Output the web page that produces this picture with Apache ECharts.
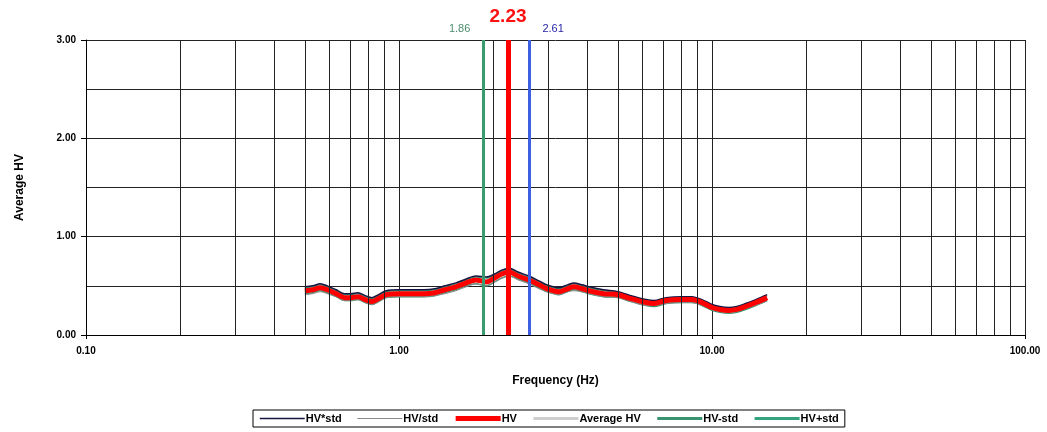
<!DOCTYPE html>
<html>
<head>
<meta charset="utf-8">
<script src="https://cdn.jsdelivr.net/npm/echarts@6/dist/echarts.min.js"></script>
<style>
  html, body { margin: 0; padding: 0; background: #fff; }
  #hvChart { width: 1047px; height: 432px; }
</style>
</head>
<body>
<div id="hvChart"></div>
<script>
// frequency samples (Hz)
var freq = [0.50, 0.53, 0.56, 0.59, 0.63, 0.67, 0.70, 0.74, 0.78, 0.82, 0.86, 0.91, 1.00, 1.10, 1.20, 1.30, 1.40, 1.52, 1.64, 1.76, 1.90, 2.02, 2.13, 2.25, 2.40, 2.60, 2.80, 2.97, 3.24, 3.45, 3.62, 3.85, 4.05, 4.50, 5.00, 5.50, 6.15, 6.53, 7.13, 8.00, 8.63, 9.29, 10.0, 10.6, 11.3, 12.0, 12.8, 13.8, 15.0];

var hv =        [0.45, 0.46, 0.48, 0.46, 0.42, 0.38, 0.38, 0.39, 0.36, 0.34, 0.37, 0.41, 0.42, 0.42, 0.42, 0.43, 0.46, 0.49, 0.53, 0.56, 0.54, 0.58, 0.62, 0.64, 0.60, 0.56, 0.51, 0.47, 0.44, 0.47, 0.49, 0.47, 0.45, 0.42, 0.41, 0.37, 0.33, 0.32, 0.35, 0.36, 0.36, 0.33, 0.28, 0.26, 0.25, 0.26, 0.29, 0.33, 0.38];
var hvMulStd =  [0.49, 0.50, 0.52, 0.50, 0.46, 0.42, 0.42, 0.43, 0.40, 0.38, 0.41, 0.45, 0.46, 0.46, 0.46, 0.47, 0.50, 0.53, 0.57, 0.60, 0.59, 0.62, 0.66, 0.68, 0.64, 0.60, 0.55, 0.51, 0.48, 0.51, 0.53, 0.51, 0.49, 0.46, 0.44, 0.40, 0.36, 0.35, 0.38, 0.39, 0.39, 0.36, 0.31, 0.29, 0.28, 0.29, 0.32, 0.36, 0.41];
var hvDivStd =  [0.41, 0.42, 0.44, 0.42, 0.39, 0.35, 0.35, 0.36, 0.33, 0.31, 0.34, 0.38, 0.39, 0.39, 0.39, 0.40, 0.42, 0.45, 0.49, 0.52, 0.50, 0.54, 0.58, 0.60, 0.56, 0.52, 0.47, 0.44, 0.41, 0.44, 0.45, 0.44, 0.42, 0.39, 0.38, 0.34, 0.30, 0.30, 0.32, 0.33, 0.33, 0.30, 0.26, 0.24, 0.23, 0.24, 0.27, 0.30, 0.35];
var avgHv =     [0.44, 0.46, 0.47, 0.46, 0.42, 0.38, 0.38, 0.39, 0.36, 0.34, 0.37, 0.40, 0.42, 0.42, 0.42, 0.43, 0.45, 0.49, 0.53, 0.55, 0.54, 0.58, 0.62, 0.63, 0.60, 0.56, 0.51, 0.47, 0.44, 0.47, 0.48, 0.47, 0.45, 0.42, 0.41, 0.37, 0.33, 0.32, 0.35, 0.36, 0.36, 0.33, 0.28, 0.26, 0.25, 0.26, 0.29, 0.33, 0.37];
var hvMinusStd = [0.42, 0.43, 0.45, 0.43, 0.39, 0.35, 0.35, 0.36, 0.33, 0.31, 0.34, 0.38, 0.39, 0.39, 0.39, 0.40, 0.43, 0.46, 0.50, 0.52, 0.50, 0.54, 0.58, 0.60, 0.57, 0.53, 0.48, 0.44, 0.41, 0.44, 0.46, 0.44, 0.42, 0.39, 0.38, 0.34, 0.30, 0.29, 0.32, 0.33, 0.33, 0.30, 0.25, 0.23, 0.22, 0.23, 0.26, 0.30, 0.35];
var hvPlusStd = [0.48, 0.49, 0.51, 0.49, 0.45, 0.41, 0.41, 0.42, 0.39, 0.37, 0.40, 0.44, 0.45, 0.45, 0.45, 0.46, 0.49, 0.52, 0.56, 0.59, 0.58, 0.61, 0.65, 0.67, 0.63, 0.59, 0.54, 0.50, 0.47, 0.50, 0.52, 0.50, 0.48, 0.45, 0.43, 0.39, 0.35, 0.34, 0.37, 0.38, 0.38, 0.35, 0.30, 0.28, 0.27, 0.28, 0.31, 0.35, 0.40];

// peak frequency and its std bounds
var f0 = 2.23;
var f0Low = 1.86;
var f0High = 2.61;

// minor log grid lines
var minorGrid = [0.2, 0.3, 0.4, 0.5, 0.6, 0.7, 0.8, 0.9, 2, 3, 4, 5, 6, 7, 8, 9, 20, 30, 40, 50, 60, 70, 80, 90];

var legendNames = ['HV*std', 'HV/std', 'HV', 'Average HV', 'HV-std', 'HV+std'];
var thickLegend = ['Average HV', 'HV-std', 'HV+std'];

var FONT = "'Liberation Sans', Arial, sans-serif";

function pairs(ys) {
  return freq.map(function (f, i) { return [f, ys[i]]; });
}

function curve(name, ys, color, width) {
  return {
    name: name,
    type: 'line',
    data: pairs(ys),
    symbol: 'none',
    smooth: 0.3,
    lineStyle: { color: color, width: width },
    itemStyle: { color: color, opacity: 0 }
  };
}

var myChart = echarts.init(document.getElementById('hvChart'));

var option = {
  animation: false,
  textStyle: { fontFamily: FONT },
  grid: { left: 86, right: 22, top: 40, bottom: 97 },
  legend: {
    data: legendNames.map(function (n) {
      return thickLegend.indexOf(n) >= 0 ? { name: n, lineStyle: { width: 3 } } : { name: n };
    }),
    left: 253,
    top: 410,
    padding: [3, 6, 3, 6],
    borderColor: '#000',
    borderWidth: 1,
    itemWidth: 45,
    itemHeight: 10,
    itemGap: 15,
    itemStyle: { opacity: 0, borderWidth: 0 },
    lineStyle: { width: 'inherit' },
    textStyle: { fontFamily: FONT, fontSize: 11, fontWeight: 'bold', color: '#000', padding: [0, 0, 0, -4] }
  },
  xAxis: {
    type: 'log',
    logBase: 10,
    min: 0.1,
    max: 100,
    name: 'Frequency (Hz)',
    nameLocation: 'middle',
    nameGap: 40,
    nameTextStyle: { fontFamily: FONT, fontSize: 12, fontWeight: 'bold', color: '#000' },
    axisLine: { lineStyle: { color: '#000', width: 1 } },
    axisTick: { show: true, length: 4, lineStyle: { color: '#000' } },
    axisLabel: {
      fontFamily: FONT, fontSize: 10, fontWeight: 'bold', color: '#000', margin: 11,
      formatter: function (v) { return v.toFixed(2); }
    },
    splitLine: { show: true, lineStyle: { color: '#222', width: 1 } }
  },
  yAxis: {
    type: 'value',
    min: 0,
    max: 3,
    interval: 1,
    name: 'Average HV',
    nameLocation: 'middle',
    nameGap: 60,
    nameTextStyle: { fontFamily: FONT, fontSize: 12, fontWeight: 'bold', color: '#000' },
    axisLine: { show: true, lineStyle: { color: '#000', width: 1 } },
    axisTick: { show: true, length: 5, lineStyle: { color: '#000' } },
    axisLabel: {
      fontFamily: FONT, fontSize: 10, fontWeight: 'bold', color: '#000', margin: 10,
      formatter: function (v) { return v.toFixed(2); }
    },
    splitLine: { show: true, lineStyle: { color: '#222', width: 1 } },
    minorTick: { show: false, splitNumber: 2 },
    minorSplitLine: { show: true, lineStyle: { color: '#222', width: 1 } }
  },
  series: [
    {
      name: 'grid',
      type: 'line',
      data: [],
      silent: true,
      markLine: {
        silent: true,
        symbol: 'none',
        animation: false,
        label: { show: false },
        lineStyle: { color: '#222', width: 1, type: 'solid' },
        data: minorGrid.map(function (v) { return { xAxis: v }; })
      }
    },
    curve('HV+std', hvPlusStd, '#35a37e', 1.5),
    curve('HV-std', hvMinusStd, '#3a9470', 1.5),
    curve('Average HV', avgHv, '#cfcfcf', 1.5),
    curve('HV/std', hvDivStd, '#8a8a8a', 1),
    curve('HV*std', hvMulStd, '#151540', 1.5),
    curve('HV', hv, '#ff0000', 5),
    {
      name: 'peak',
      type: 'line',
      data: [],
      silent: true,
      z: 5,
      markLine: {
        silent: true,
        symbol: 'none',
        animation: false,
        data: [
          {
            xAxis: f0Low,
            lineStyle: { color: '#3a9a70', width: 3, type: 'solid' },
            label: {
              show: true, position: 'end', distance: 6, align: 'right', padding: [0, 13, 0, 0],
              formatter: f0Low.toFixed(2), color: '#4d8d6d', fontFamily: FONT, fontSize: 11
            }
          },
          {
            xAxis: f0,
            lineStyle: { color: '#ff0000', width: 5, type: 'solid' },
            label: {
              show: true, position: 'end', distance: 14,
              formatter: f0.toFixed(2), color: '#ff1010', fontFamily: FONT, fontSize: 19, fontWeight: 'bold'
            }
          },
          {
            xAxis: f0High,
            lineStyle: { color: '#3d5fe0', width: 3, type: 'solid' },
            label: {
              show: true, position: 'end', distance: 6, align: 'left', padding: [0, 0, 0, 13],
              formatter: f0High.toFixed(2), color: '#2626a8', fontFamily: FONT, fontSize: 11
            }
          }
        ]
      }
    }
  ]
};

myChart.setOption(option);
</script>
</body>
</html>
